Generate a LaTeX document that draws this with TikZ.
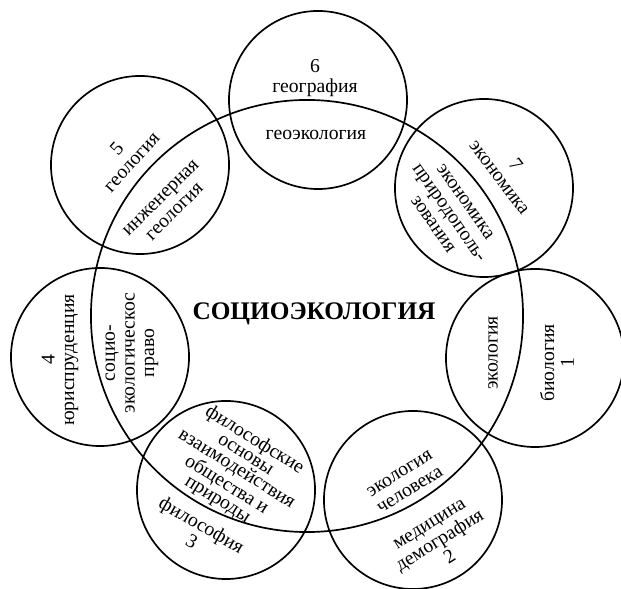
\documentclass[tikz,border=0pt]{standalone}
\usepackage{fontspec}
\setmainfont{Liberation Serif}

\begin{document}
\begin{tikzpicture}[x=0.025cm, y=-0.025cm, line width=1.2pt,
    field/.style={minimum size=4.45cm, draw, circle, inner sep=0pt},
    txt/.style={align=center, inner sep=0pt, font=\fontsize{14}{14}\selectfont}]
    \useasboundingbox (0,0) rectangle (621,589);

    \node[minimum size=10.8cm, draw, circle, inner sep=0pt] (S) at (307, 316) {};
    \node[field] (A1) at (535, 358) {};
    \node[field] (A2) at (413, 500) {};
    \node[field] (A3) at (226, 490) {};
    \node[field] (A4) at (100, 357) {};
    \node[field] (A5) at (140, 165) {};
    \node[field] (A6) at (318, 100) {};
    \node[field] (A7) at (484, 188) {};

    \node[font=\bfseries\fontsize{18}{18}\selectfont] (T) at (314, 314) {СОЦИОЭКОЛОГИЯ};

    \node[txt, rotate=90] (A1s) at (493, 353) {экология};
    \node[txt, rotate=90] (A1t) at (557, 363) {биология\\1};
    \node[txt, rotate=32] (A2s) at (405, 482) {экология\\человека};
    \node[txt, rotate=32] (A2t) at (440, 541) {медицина\\демография\\2};
    \node[txt, rotate=-32, font=\fontsize{14}{12}\selectfont] (A3s) at (236, 470)
        {философские\\основы\\взаимодействия\\общества и\\природы};
    \node[txt, rotate=-30] (A3t) at (197, 533) {философия\\3};
    \node[txt, rotate=90] (A4t) at (60, 360) {4\\юриспруденция};
    \node[txt, rotate=90] (A4s) at (132, 353) {социо-\\экологическос\\право};
    \node[txt, rotate=48] (A5t) at (124, 155) {5\\геология};
    \node[txt, rotate=45] (A5s) at (168, 205) {инженерная\\геология};
    \node[txt] (A6t) at (315, 78) {6\\география};
    \node[txt] (A6s) at (316, 135) {геоэкология};
    \node[txt, rotate=-53] (A7t) at (508, 171) {7\\экономика};
    \node[txt, rotate=-55] (A7s) at (449, 213) {экономика\\природополь-\\зования};
\end{tikzpicture}
\end{document}
